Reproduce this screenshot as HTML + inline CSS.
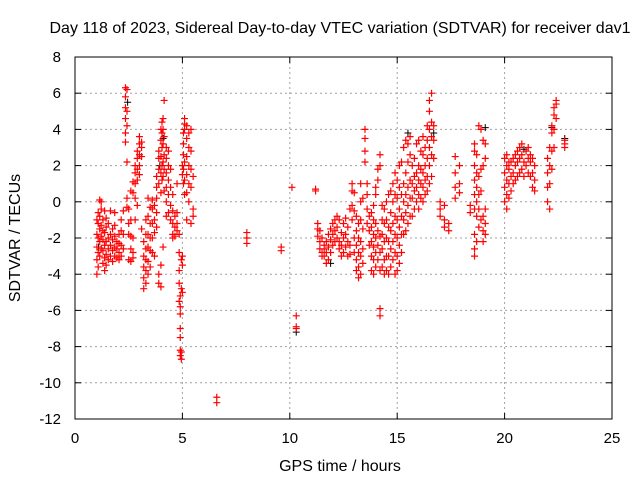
<!DOCTYPE html>
<html><head><meta charset="utf-8"><style>
html,body{margin:0;padding:0;background:#fff;}
svg{display:block;font-family:"Liberation Sans",sans-serif;}
</style></head><body>
<svg id="chart" width="640" height="480" viewBox="0 0 640 480" xmlns="http://www.w3.org/2000/svg">
<text x="340" y="33" font-size="16" text-anchor="middle">Day 118 of 2023, Sidereal Day-to-day VTEC variation (SDTVAR) for receiver dav1</text>
<text x="340" y="471" font-size="16" text-anchor="middle">GPS time / hours</text>
<text x="20" y="238" font-size="16" text-anchor="middle" transform="rotate(-90 20 238)">SDTVAR / TECUs</text>
<g id="grid"></g><g id="ticks"></g><g id="marks"></g>
<rect x="75" y="57" width="537" height="362" fill="none" stroke="#000" stroke-width="1"/>
</svg>
<script>
const xTicks=[0,5,10,15,20,25];
const yTicks=[8,6,4,2,0,-2,-4,-6,-8,-10,-12];
const times=[1.02,1.08,1.15,1.22,1.30,1.38,1.45,1.55,1.65,1.75,1.85,1.95,2.05,2.15,2.25,2.35,2.42,2.5,2.6,2.7,2.8,2.9,3.0,3.1,3.2,3.3,3.4,3.5,3.6,3.7,3.8,3.9,4.0,4.05,4.1,4.15,4.25,4.35,4.45,4.55,4.65,4.75,4.85,4.9,4.95,5.0,5.05,5.1,5.2,5.3,5.4,5.5,6.6,8.0,9.6,10.1,10.3,11.2,11.3,11.4,11.5,11.6,11.7,11.8,11.9,12.0,12.1,12.2,12.3,12.4,12.5,12.6,12.7,12.8,12.9,13.0,13.1,13.2,13.3,13.4,13.5,13.6,13.7,13.8,13.9,14.0,14.1,14.2,14.3,14.4,14.5,14.6,14.7,14.8,14.9,15.0,15.1,15.2,15.3,15.4,15.5,15.6,15.7,15.8,15.9,16.0,16.1,16.2,16.3,16.4,16.5,16.6,16.7,17.0,17.2,17.4,17.7,17.9,18.4,18.6,18.7,18.8,18.9,19.0,19.1,20.0,20.1,20.2,20.3,20.4,20.5,20.6,20.7,20.8,20.9,21.0,21.1,21.2,21.3,21.4,22.0,22.1,22.2,22.3,22.4,22.8];
const values=[
[-4.0,-3.2,-2.5,-1.8,-1.0],[-3.6,-2.8,-2.0,-1.2,-0.6],[-3.0,-2.2,-1.5,-0.8,0.1],[-2.6,-1.9,-1.3,-0.4,0.0],[-3.4,-2.7,-2.1,-1.6,-1.0],[-3.8,-3.1,-2.4,-1.7,-0.5],[-3.5,-2.9,-2.2,-1.4,-0.9],[-3.2,-2.6,-2.0,-1.2],[-3.0,-2.4,-1.8,-0.5],[-3.3,-2.7,-2.1,-1.5],[-3.0,-2.5,-1.9,-1.3,-0.6],[-3.1,-2.6,-2.2],[-3.2,-2.8,-2.3,-1.8],[-3.0,-2.4,-1.6,-1.0],[-2.6,-1.8,-0.5],
[6.3,5.8,5.2,4.6,3.8,3.3],[6.2,5.0,4.2,2.2,0.2,-0.3],[-1.8,-1.2,-0.4,-3.2],[-3.3,-2.6,-1.9,-1.0,0.6],[-2.8,-2.0,0.5,1.1,-3.1],[0.2,1.0,1.6,2.0,-1.0],[1.2,1.8,2.4,2.8,-0.2],[2.0,2.6,3.2,3.6,1.5],[2.5,3.0,3.3,-1.5],[-4.8,-4.2,-3.6,-3.0,-2.2],[-4.5,-3.8,-3.2,-2.6,-1.8,-1.0],[-4.0,-3.3,-2.5,-1.8,-0.8,0.2],[-3.6,-2.7,-2.0,-1.2,-0.3],[-2.8,-2.0,-1.2,-0.4,0.1],[-3.0,-1.7,-1.0,-0.2],[-1.4,-0.6,0.2,0.8,1.4],[-4.5,-4.0,1.0,1.8,2.4,2.8],[-4.7,-3.5,0.5,1.6,2.5,3.4,4.0],[4.4,3.8,3.0,2.0,1.2],[4.6,4.0,3.2,2.2,1.4,-2.5],[5.6,3.6,2.6,1.8,0.6],[3.0,2.4,1.6,0.8,0.0,-0.8],[2.8,2.0,1.2,0.4,-0.6],[1.8,0.8,-0.2,-1.0],[0.4,-0.5,-1.2,-1.8,-2.0],[-0.8,-1.4,-1.9],[-1.2,-1.6,-0.6,1.0],[-5.5,-4.5,-3.8,-2.8,-1.8],[-8.5,-8.2,-7.5,-7.0,-6.2,-5.8,-5.2],[-8.7,-8.3,-4.8,-3.2],[-3.0,-3.5,-5.0,1.5,2.0],[1.0,1.8,2.6,3.2,3.8],[0.4,1.2,2.2,4.0,4.6,4.3],[-1.0,0.5,1.5,2.5,3.5,4.2],[0.0,1.0,2.0,3.0,3.8],[-1.2,0.8,1.8,2.8,4.0],[-0.8,-0.4,1.4],
[-11.1,-10.8],[-2.3,-2.0,-1.7],[-2.7,-2.5],[0.8],[-7.0,-6.9,-6.3],[0.6,0.7],[-1.2,-1.5,-1.9],[-1.6,-2.2,-2.6],[-2.0,-2.8,-3.0],[-2.4,-3.0,-2.6],[-2.8,-3.4,-2.2],[-1.8,-2.5,-3.2],[-1.5,-2.1,-2.8],[-1.2,-1.8,-2.4],[-1.0,-1.6,-2.2],[-2.0,-1.4,-0.8],[-2.6,-2.2,-1.0],[-3.0,-2.4,-1.7],[-2.8,-2.0,-1.2],[-2.5,-1.8,-0.9],[-3.0,-2.2,-1.4],[-2.9,-2.4,-0.4],[-1.0,-0.2,0.6,1.0],[-2.8,-2.0,-0.5,0.5],[-3.8,-3.2,-2.4,-1.6,-0.8],[-4.2,-3.6,-2.8,-2.0,-1.2],[-4.0,-3.0,-2.2,-1.0,0.0,1.0],[-3.4,-2.6,-1.5,0.2],[2.2,2.8,3.5,4.0],[-1.2,-0.4,0.4,1.0],[-2.4,-1.6,-0.8],[-3.8,-3.0,-2.2,-1.4,-0.6],[-4.0,-3.2,-2.5,-1.8,-1.0,-0.2],[-3.6,-2.8,-2.0,-1.2,0.4,0.8],[-3.2,-2.4,-1.6,1.2,1.8],[-6.3,-5.9,-3.8,-2.8,-1.9,2.0,2.6],[-3.6,-2.6,-1.8,-1.0,-0.2],[-4.0,-3.2,-2.2,-1.2,-0.4],[-3.8,-3.0,-2.0,-1.0,0.0],[-4.0,-3.0,-2.2,-1.4,0.4],[-3.6,-2.6,-1.6,-0.6,0.6],[-3.2,-2.2,-1.2,0.0,1.0],[-4.0,-2.8,-1.8,-0.8,0.4,1.6],[-3.8,-3.0,-2.0,-1.0,0.2,1.2],[-3.4,-2.4,-1.4,-0.4,0.8,2.0],[-2.8,-1.8,-0.8,0.4,2.2],[-1.8,-1.0,0.0,1.0,3.0],[-1.6,-0.6,0.4,1.6,3.4],[-1.2,-0.2,0.8,2.2,3.2],[-0.8,0.2,1.2,2.6,3.6],[-0.8,0.2,1.0,2.0],[-0.4,0.6,1.4,2.4],[0.0,0.8,1.6,3.2],[-0.4,0.4,1.2,2.0,3.4],[0.2,1.0,1.8,2.8],[0.0,0.8,1.6,2.6,3.6],[0.4,1.2,2.0,3.0],[0.6,1.4,2.4,3.4,4.2],[1.0,2.0,3.0,4.0,5.0,5.6],[1.4,2.6,3.6,4.4,6.0],[2.4,3.4,4.2],
[0.0,-0.4,-0.8],[-1.4,-1.0,-0.2],[-1.6,-1.2],[2.5,1.6,0.8,0.2],[2.0,1.0,0.5],[-0.6,-0.2],[-3.0,-2.6,-1.8,-0.4,0.4,1.2,2.0,2.8,3.2],[-2.2,-0.8,0.0,0.8,1.6,2.6],[-1.4,-0.4,0.4,1.4,4.2],[-1.0,0.6,1.8,4.0],[-2.2,-1.6,-0.8,2.0,3.4],[-1.8,-1.2,-0.4,3.2,2.4],
[0.0,0.8,1.6,2.4],[-0.4,0.4,1.2,2.0,2.6],[0.2,1.0,1.8,2.2],[0.6,1.4,2.2],[1.0,1.6,2.4],[1.2,2.0,2.6],[1.4,2.2,2.8],[1.6,2.4,3.0],[1.8,2.6,3.2],[1.4,2.2],[2.0,2.8],[1.6,2.4,3.0],[1.4,2.2,2.6],[0.8,1.6,2.4],[0.6,1.2,2.0],[0.0,0.8,1.6,2.4],[-0.4,1.0,2.0,3.0],[1.8,2.8,3.8,4.2],[3.0,4.0,4.8,5.2],[4.6,5.4,5.6],[3.0,3.2,3.4]];
const blackTimes=[1.1,2.45,3.95,4.1,10.3,11.9,15.5,16.7,19.1,20.9,22.2,22.8];
const blackValues=[-2.5,5.5,2.0,3.5,-7.2,-3.4,3.8,3.8,4.1,2.9,4.1,3.5];

const X0=75,X1=612,Y0=419,Y1=57,xMin=0,xMax=25,yMin=-12,yMax=8;
const xs=t=>X0+(t-xMin)/(xMax-xMin)*(X1-X0);
const ys=v=>Y0-(v-yMin)/(yMax-yMin)*(Y0-Y1);
const NS="http://www.w3.org/2000/svg";
function mk(tag,attrs,parent){const e=document.createElementNS(NS,tag);for(const k in attrs)e.setAttribute(k,attrs[k]);parent.appendChild(e);return e;}
const grid=document.getElementById('grid'),ticks=document.getElementById('ticks'),marks=document.getElementById('marks');
xTicks.forEach(t=>{const x=xs(t);
 if(t>xMin&&t<xMax){const g=mk('line',{x1:x,x2:x,y1:Y1,y2:Y0,stroke:'#a0a0a0','stroke-dasharray':'2,3'},grid);
 
 }
 const l=mk('text',{x:x,y:443,'font-size':'15','text-anchor':'middle'},ticks);l.textContent=t;
 
 
 mk('line',{x1:x,x2:x,y1:Y0,y2:Y0-6,stroke:'#000'},ticks);mk('line',{x1:x,x2:x,y1:Y1,y2:Y1+6,stroke:'#000'},ticks);});
yTicks.forEach(v=>{const y=ys(v);
 if(v>yMin&&v<yMax){const g=mk('line',{x1:X0,x2:X1,y1:y,y2:y,stroke:'#a0a0a0','stroke-dasharray':'2,3'},grid);
 
 }
 const l=mk('text',{x:61,y:y+5,'font-size':'15','text-anchor':'end'},ticks);l.textContent=v;
 
 
 mk('line',{x1:X0,x2:X0+6,y1:y,y2:y,stroke:'#000'},ticks);mk('line',{x1:X1,x2:X1-6,y1:y,y2:y,stroke:'#000'},ticks);});
function plus(x,y){return 'M'+(x-3.5)+' '+y+'h7M'+x+' '+(y-3.5)+'v7';}
let dB='';blackTimes.forEach((t,i)=>{dB+=plus(xs(t),ys(blackValues[i]));});
const pb=mk('path',{d:dB,stroke:'#000',fill:'none','stroke-width':'1'},marks);


let dR='';times.forEach((t,i)=>{values[i].forEach(v=>{dR+=plus(xs(t),ys(v));});});
const pr=mk('path',{d:dR,stroke:'#ff0000',fill:'none','stroke-width':'1.2'},marks);


</script>
</body></html>
